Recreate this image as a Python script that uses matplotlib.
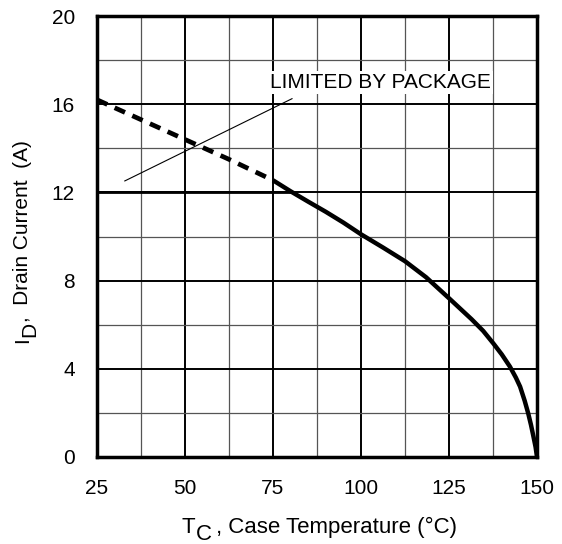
import matplotlib.pyplot as plt
from matplotlib.ticker import MultipleLocator

plt.rcParams['font.family'] = ['Liberation Sans', 'DejaVu Sans']

# Data
# package-limited extrapolation (dashed)
dash_temp = [25, 37.5, 50, 62.5, 75]
dash_curr = [16.2, 15.3, 14.4, 13.5, 12.55]

# die-limited current (solid)
solid_temp = [75, 80, 85, 90, 95, 100, 106.25, 112.5, 118.5, 125, 131.4, 134.7,
              137.6, 140, 142.3, 144, 145.2, 146.5, 147.5, 148.3, 149, 149.6, 150]
solid_curr = [12.55, 12.05, 11.58, 11.12, 10.63, 10.1, 9.5, 8.88, 8.15, 7.2, 6.25, 5.72,
              5.15, 4.65, 4.1, 3.6, 3.19, 2.55, 1.98, 1.45, 0.92, 0.45, 0]

# package limit
pkg_temp = [25, 80]
pkg_curr = [12, 12]

# pointer line for the annotation
ptr_temp = [32.9, 80.4]
ptr_curr = [12.52, 16.25]

x_ticks = [25, 50, 75, 100, 125, 150]
y_ticks = [0, 4, 8, 12, 16, 20]

W, H = 562, 544
FS = 15

fig = plt.figure(figsize=(W / 100, H / 100), dpi=100)
ax = fig.add_axes([97 / W, 1 - 457 / H, 440 / W, 441 / H])

ax.set_xlim(25, 150)
ax.set_ylim(0, 20)
ax.set_xticks(x_ticks)
ax.set_yticks(y_ticks)
ax.xaxis.set_minor_locator(MultipleLocator(12.5))
ax.yaxis.set_minor_locator(MultipleLocator(2))

# grid: black majors, grey minors
ax.grid(True, which='major', color='black', linewidth=1.4, zorder=0)
ax.grid(True, which='minor', color='#555555', linewidth=0.9, zorder=0)
ax.set_axisbelow(True)

ax.tick_params(which='both', length=0, labelsize=FS)
ax.tick_params(axis='x', pad=16)
ax.tick_params(axis='y', pad=16)

for s in ax.spines.values():
    s.set_linewidth(2.5)

ax.plot(pkg_temp, pkg_curr, color='black', linewidth=2.0, zorder=3)
ax.plot(dash_temp, dash_curr, color='black', linewidth=3.4,
        dashes=(2.4, 1.7), zorder=3)
ax.plot(solid_temp, solid_curr, color='black', linewidth=3.2,
        solid_joinstyle='round', solid_capstyle='butt', zorder=3)
ax.plot(ptr_temp, ptr_curr, color='black', linewidth=0.8, zorder=3)

ax.text(105.4, 17.0, 'LIMITED BY PACKAGE', ha='center', va='center',
        fontsize=FS, zorder=4,
        bbox=dict(facecolor='white', edgecolor='none', pad=1.5))


# axis labels with full-size, dropped subscripts (as in the datasheet)
def fpos(x, y):
    return x / W, 1 - y / H


r = fig.canvas.get_renderer()
XFS = 16

# x label
t = fig.text(*fpos(182, 533), 'T', fontsize=XFS, ha='left', va='baseline')
x_end = t.get_window_extent(r).x1
t = fig.text(x_end / W, 1 - 540 / H, 'C', fontsize=XFS, ha='left', va='baseline')
x_end = t.get_window_extent(r).x1
fig.text((x_end + 4) / W, 1 - 533 / H, ', Case Temperature (°C)', fontsize=XFS,
         ha='left', va='baseline')

# y label (rotated, reads bottom to top)
t = fig.text(*fpos(28, 343), 'I', fontsize=FS, ha='left', va='baseline',
             rotation=90, rotation_mode='anchor')
y_top = t.get_window_extent(r).y1
t = fig.text(35 / W, y_top / H, 'D', fontsize=FS, ha='left', va='baseline',
             rotation=90, rotation_mode='anchor')
y_top = t.get_window_extent(r).y1
fig.text(28 / W, y_top / H, ',  Drain Current  (A)', fontsize=FS, ha='left',
         va='baseline', rotation=90, rotation_mode='anchor')

fig.savefig('out.png', dpi=100)
